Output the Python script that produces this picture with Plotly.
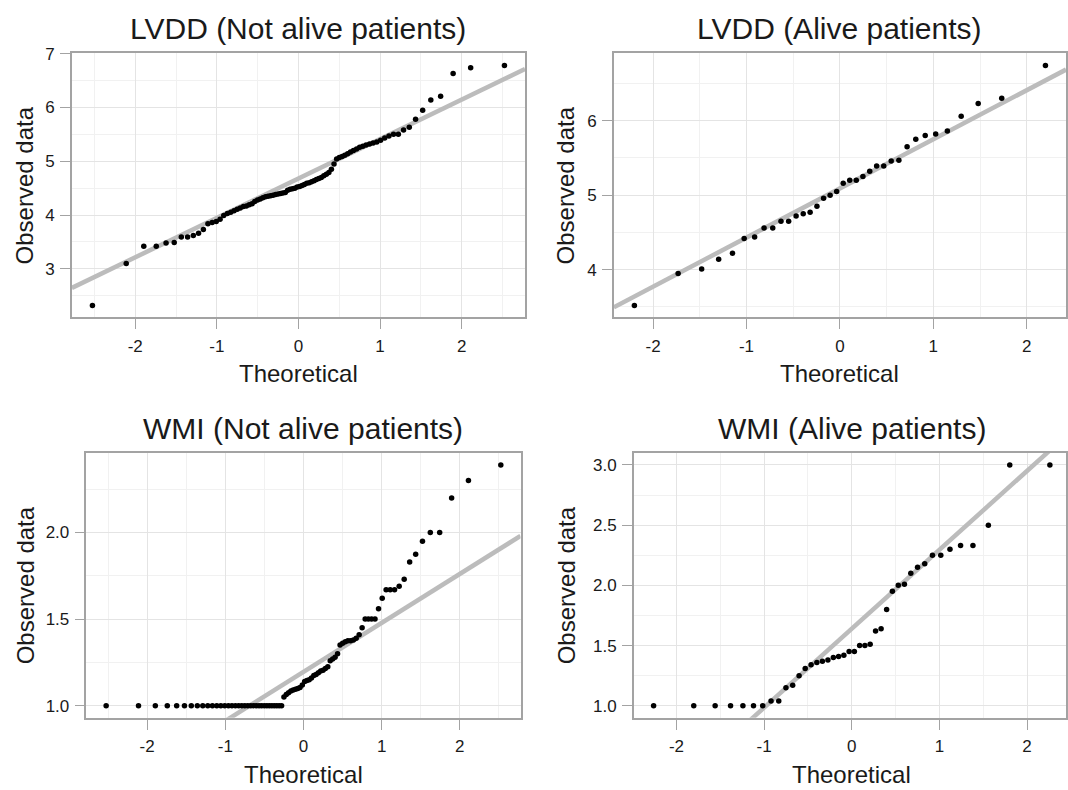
import plotly.graph_objects as go

# ---------------- data ----------------
theo_86 = [-2.524, -2.110, -1.895, -1.742, -1.622, -1.522, -1.435, -1.358, -1.288, -1.224,
           -1.165, -1.109, -1.057, -1.007, -0.960, -0.915, -0.871, -0.829, -0.789, -0.750,
           -0.712, -0.674, -0.638, -0.603, -0.568, -0.535, -0.501, -0.468, -0.436, -0.404,
           -0.373, -0.342, -0.311, -0.280, -0.250, -0.220, -0.191, -0.161, -0.132, -0.102,
           -0.073, -0.044, -0.015, 0.015, 0.044, 0.073, 0.102, 0.132, 0.161, 0.191,
           0.220, 0.250, 0.280, 0.311, 0.342, 0.373, 0.404, 0.436, 0.468, 0.501,
           0.535, 0.568, 0.603, 0.638, 0.674, 0.712, 0.750, 0.789, 0.829, 0.871,
           0.915, 0.960, 1.007, 1.057, 1.109, 1.165, 1.224, 1.288, 1.358, 1.435,
           1.522, 1.622, 1.742, 1.895, 2.110, 2.524]

lvdd_not_alive = [2.32, 3.10, 3.42, 3.42, 3.48, 3.49, 3.59, 3.59, 3.62, 3.66,
                  3.73, 3.84, 3.86, 3.88, 3.92, 3.99, 4.03, 4.05, 4.08, 4.11,
                  4.13, 4.16, 4.17, 4.19, 4.21, 4.25, 4.28, 4.30, 4.32, 4.34,
                  4.35, 4.36, 4.37, 4.38, 4.39, 4.40, 4.41, 4.42, 4.46, 4.48,
                  4.49, 4.50, 4.52, 4.53, 4.55, 4.57, 4.59, 4.60, 4.62, 4.64,
                  4.66, 4.68, 4.70, 4.73, 4.76, 4.79, 4.85, 4.95, 5.04, 5.07,
                  5.09, 5.11, 5.14, 5.17, 5.20, 5.23, 5.26, 5.28, 5.30, 5.32,
                  5.34, 5.36, 5.39, 5.43, 5.47, 5.50, 5.50, 5.58, 5.63, 5.78,
                  5.95, 6.14, 6.21, 6.63, 6.74, 6.78]

wmi_not_alive = [1.00, 1.00, 1.00, 1.00, 1.00, 1.00, 1.00, 1.00, 1.00, 1.00,
                 1.00, 1.00, 1.00, 1.00, 1.00, 1.00, 1.00, 1.00, 1.00, 1.00,
                 1.00, 1.00, 1.00, 1.00, 1.00, 1.00, 1.00, 1.00, 1.00, 1.00,
                 1.00, 1.00, 1.00, 1.00, 1.05, 1.065, 1.075, 1.085, 1.09, 1.095,
                 1.10, 1.105, 1.12, 1.14, 1.145, 1.15, 1.16, 1.175, 1.18, 1.19,
                 1.20, 1.205, 1.215, 1.225, 1.26, 1.27, 1.28, 1.30, 1.35, 1.36,
                 1.37, 1.375, 1.375, 1.38, 1.39, 1.41, 1.45, 1.50, 1.50, 1.50,
                 1.50, 1.56, 1.62, 1.67, 1.67, 1.67, 1.69, 1.73, 1.83, 1.875,
                 1.95, 2.00, 2.00, 2.20, 2.30, 2.39]

theo_36 = [-2.200, -1.732, -1.480, -1.298, -1.150, -1.025, -0.913, -0.812, -0.719, -0.631,
           -0.549, -0.469, -0.393, -0.319, -0.246, -0.175, -0.105, -0.035, 0.035, 0.105,
           0.175, 0.246, 0.319, 0.393, 0.469, 0.549, 0.631, 0.719, 0.812, 0.913,
           1.025, 1.150, 1.298, 1.480, 1.732, 2.200]

lvdd_alive = [3.52, 3.95, 4.01, 4.14, 4.22, 4.42, 4.44, 4.56, 4.56, 4.65,
              4.65, 4.72, 4.75, 4.77, 4.85, 4.96, 5.00, 5.05, 5.16, 5.20,
              5.20, 5.25, 5.32, 5.39, 5.39, 5.46, 5.47, 5.65, 5.75, 5.80,
              5.82, 5.86, 6.06, 6.23, 6.30, 6.74]

theo_42 = [-2.261, -1.803, -1.559, -1.383, -1.242, -1.121, -1.016, -0.921, -0.833, -0.751,
           -0.674, -0.601, -0.531, -0.464, -0.398, -0.335, -0.272, -0.210, -0.150, -0.090,
           -0.030, 0.030, 0.090, 0.150, 0.210, 0.272, 0.335, 0.398, 0.464, 0.531,
           0.601, 0.674, 0.751, 0.833, 0.921, 1.016, 1.121, 1.242, 1.383, 1.559,
           1.803, 2.261]

wmi_alive = [1.00, 1.00, 1.00, 1.00, 1.00, 1.00, 1.00, 1.04, 1.04, 1.15,
             1.17, 1.25, 1.31, 1.34, 1.36, 1.37, 1.38, 1.40, 1.41, 1.42,
             1.45, 1.45, 1.50, 1.50, 1.51, 1.62, 1.64, 1.80, 1.95, 2.00,
             2.01, 2.10, 2.15, 2.18, 2.25, 2.25, 2.30, 2.33, 2.33, 2.50,
             3.00, 3.00]

# reference (qq) lines: intercept, slope
qqline_lvdd_not_alive = (4.68, 0.733)
qqline_lvdd_alive = (5.09, 0.659)
qqline_wmi_not_alive = (1.195, 0.283)
qqline_wmi_alive = (1.64, 0.655)

titles = ["LVDD (Not alive patients)", "LVDD (Alive patients)",
          "WMI (Not alive patients)", "WMI (Alive patients)"]
x_tick_vals = [-2, -1, 0, 1, 2]
x_tick_text = ["-2", "-1", "0", "1", "2"]

# ---------------- layout helpers ----------------
W, H = 1068, 790
FONT = "Liberation Sans, Arial, sans-serif"
BORDER = "#a3a3a3"
GRID = "#e4e4e4"
GRID_MINOR = "#f1f1f1"
TXT = "#1a1a1a"


def px_x(p):
    return p / W


def px_y(p):
    return 1 - p / H


panels = [
    dict(x=theo_86, y=lvdd_not_alive, qq=qqline_lvdd_not_alive,
         xpx=(72, 526), ypx=(45, 312), xr=[-2.776, 2.776], yr=[2.097, 7.003],
         yt=[3, 4, 5, 6, 7], ytt=["3", "4", "5", "6", "7"], ym=[2.5, 3.5, 4.5, 5.5, 6.5],
         ylab_x=25),
    dict(x=theo_36, y=lvdd_alive, qq=qqline_lvdd_alive,
         xpx=(615, 1068), ypx=(45, 312), xr=[-2.42, 2.42], yr=[3.359, 6.901],
         yt=[4, 5, 6], ytt=["4", "5", "6"], ym=[3.5, 4.5, 5.5, 6.5],
         ylab_x=567),
    dict(x=theo_86, y=wmi_not_alive, qq=qqline_wmi_not_alive,
         xpx=(86.6, 521.5), ypx=(449, 717), xr=[-2.776, 2.776], yr=[0.93, 2.46],
         yt=[1.0, 1.5, 2.0], ytt=["1.0", "1.5", "2.0"], ym=[1.25, 1.75, 2.25],
         ylab_x=25),
    dict(x=theo_42, y=wmi_alive, qq=qqline_wmi_alive,
         xpx=(635, 1068), ypx=(449, 717), xr=[-2.487, 2.445], yr=[0.9, 3.1],
         yt=[1.0, 1.5, 2.0, 2.5, 3.0], ytt=["1.0", "1.5", "2.0", "2.5", "3.0"],
         ym=[1.25, 1.75, 2.25, 2.75],
         ylab_x=567),
]
panel_centers_x = [299, 841.5, 304, 853.3]

fig = go.Figure()
layout = dict(width=W, height=H, autosize=False,
              margin=dict(l=0, r=0, t=0, b=0),
              paper_bgcolor="white", plot_bgcolor="white",
              showlegend=False, font=dict(family=FONT, color=TXT))
annotations = []

for k, p in enumerate(panels):
    idx = "" if k == 0 else str(k + 1)
    xa, ya = "x" + idx, "y" + idx
    b0, b1 = p["qq"]
    xl = p["xr"]
    fig.add_trace(go.Scatter(x=xl, y=[b0 + b1 * xl[0], b0 + b1 * xl[1]], mode="lines",
                             line=dict(color="#bcbcbc", width=4.5),
                             xaxis=xa, yaxis=ya, hoverinfo="skip"))
    fig.add_trace(go.Scatter(x=p["x"], y=p["y"], mode="markers",
                             marker=dict(color="black", size=5.5),
                             xaxis=xa, yaxis=ya))
    common = dict(showline=True, mirror=True, linecolor=BORDER, linewidth=1.5,
                  ticks="outside", ticklen=10, tickwidth=1.2, tickcolor=BORDER,
                  ticklabelstandoff=2,
                  showgrid=True, gridcolor=GRID, gridwidth=1.2, zeroline=False,
                  tickfont=dict(family=FONT, size=17, color=TXT))
    layout["xaxis" + idx] = dict(
        domain=[px_x(p["xpx"][0]), px_x(p["xpx"][1])], range=p["xr"],
        anchor=ya, tickmode="array", tickvals=x_tick_vals, ticktext=x_tick_text,
        minor=dict(tickmode="array", tickvals=[-2.5, -1.5, -0.5, 0.5, 1.5, 2.5],
                   showgrid=True, gridcolor=GRID_MINOR, gridwidth=1, ticks=""),
        **common)
    layout["yaxis" + idx] = dict(
        domain=[px_y(p["ypx"][1]), px_y(p["ypx"][0])], range=p["yr"],
        anchor=xa, tickmode="array", tickvals=p["yt"], ticktext=p["ytt"],
        minor=dict(tickmode="array", tickvals=p["ym"],
                   showgrid=True, gridcolor=GRID_MINOR, gridwidth=1, ticks=""),
        **common)
    cx = panel_centers_x[k]
    cy = (p["ypx"][0] + p["ypx"][1]) / 2
    # panel title
    annotations.append(dict(text=titles[k], x=px_x(cx), y=px_y(p["ypx"][0] - 25),
                            xref="paper", yref="paper", showarrow=False,
                            xanchor="center", yanchor="middle",
                            font=dict(family=FONT, size=30, color=TXT)))
    # x axis title
    annotations.append(dict(text="Theoretical", x=px_x(cx), y=px_y(p["ypx"][1] + 57),
                            xref="paper", yref="paper", showarrow=False,
                            xanchor="center", yanchor="middle",
                            font=dict(family=FONT, size=24, color=TXT)))
    # y axis title
    annotations.append(dict(text="Observed data", x=px_x(p["ylab_x"]), y=px_y(cy),
                            xref="paper", yref="paper", showarrow=False, textangle=-90,
                            xanchor="center", yanchor="middle",
                            font=dict(family=FONT, size=24, color=TXT)))

layout["annotations"] = annotations
fig.update_layout(**layout)
fig.write_html("out.html")
